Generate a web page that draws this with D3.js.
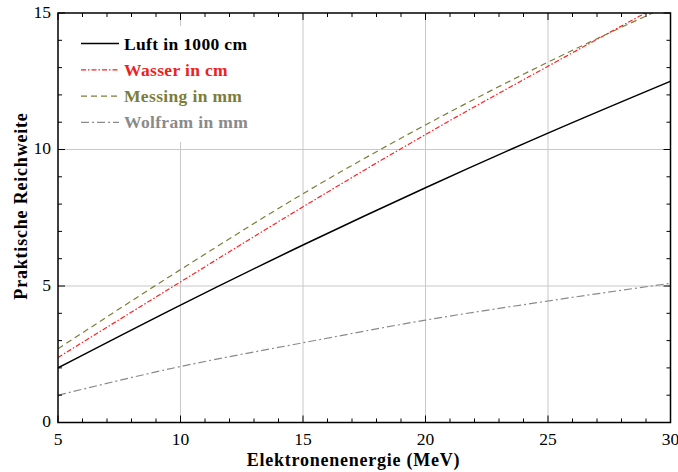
<!DOCTYPE html>
<html>
<head>
<meta charset="utf-8">
<script src="https://cdn.jsdelivr.net/npm/d3@7"></script>
<style>
  body { margin: 0; background: #fff; }
  text { font-family: "Liberation Serif", "DejaVu Serif", serif; }
</style>
</head>
<body>
<div id="chart"></div>
<script>
// energies in MeV
const energie = [5, 10, 15, 20, 25, 30];
const luft = [2.0, 4.3, 6.5, 8.6, 10.6, 12.5];
const wasser = [2.38, 5.15, 7.9, 10.55, 13.05, 15.5];
const messing = [2.7, 5.6, 8.38, 10.9, 13.2, 15.3];
const wolfram = [1.0, 2.05, 2.92, 3.75, 4.45, 5.1];

const serien = [
  {name: "Luft in 1000 cm", werte: luft, color: "#000000", text: "#000000", dash: null, w: 1.5},
  {name: "Wasser in cm", werte: wasser, color: "#ff2020", text: "#ee2020", dash: "5,2,1.5,2", w: 1.2},
  {name: "Messing in mm", werte: messing, color: "#7d7d3a", text: "#7d7d3a", dash: "6,4", w: 1.2},
  {name: "Wolfram in mm", werte: wolfram, color: "#8a8a8a", text: "#8a8a8a", dash: "8,3,2,3", w: 1.2}
];

const xTicks = [5, 10, 15, 20, 25, 30];
const yTicks = [0, 5, 10, 15];

const width = 678, height = 472;
const margin = {top: 13, right: 7.5, bottom: 49.5, left: 58};

const svg = d3.select("#chart").append("svg")
  .attr("width", width)
  .attr("height", height);

const x = d3.scaleLinear().domain([5, 30]).range([margin.left, width - margin.right]);
const y = d3.scaleLinear().domain([0, 15]).range([height - margin.bottom, margin.top]);

// grid
const grid = svg.append("g").attr("stroke", "#c8c8c8").attr("stroke-width", 1);
xTicks.slice(1, -1).forEach(t => {
  grid.append("line").attr("x1", x(t)).attr("x2", x(t)).attr("y1", y(0)).attr("y2", y(15));
});
yTicks.slice(1, -1).forEach(t => {
  grid.append("line").attr("x1", x(5)).attr("x2", x(30)).attr("y1", y(t)).attr("y2", y(t));
});

// clip for curves
svg.append("clipPath").attr("id", "clip")
  .append("rect")
  .attr("x", x(5)).attr("y", y(15))
  .attr("width", x(30) - x(5)).attr("height", y(0) - y(15));

const line = d3.line().curve(d3.curveMonotoneX);

// legend background hides grid behind it
svg.append("rect")
  .attr("x", 66).attr("y", 26).attr("width", 200).attr("height", 116)
  .attr("fill", "#fff");

const curves = svg.append("g").attr("clip-path", "url(#clip)");
serien.forEach(s => {
  curves.append("path")
    .attr("d", line(energie.map((e, i) => [x(e), y(s.werte[i])])))
    .attr("fill", "none")
    .attr("stroke", s.color)
    .attr("stroke-width", s.w)
    .attr("stroke-dasharray", s.dash);
});

// ticks (inside, on all four sides)
const ticks = svg.append("g").attr("stroke", "#000").attr("stroke-width", 1);
d3.range(5, 31, 1).forEach(t => {
  const len = t % 5 === 0 ? 7 : 4;
  ticks.append("line").attr("x1", x(t)).attr("x2", x(t)).attr("y1", y(0)).attr("y2", y(0) - len);
  ticks.append("line").attr("x1", x(t)).attr("x2", x(t)).attr("y1", y(15)).attr("y2", y(15) + len);
});
d3.range(0, 16, 1).forEach(t => {
  const len = t % 5 === 0 ? 7 : 4;
  ticks.append("line").attr("x1", x(5)).attr("x2", x(5) + len).attr("y1", y(t)).attr("y2", y(t));
  ticks.append("line").attr("x1", x(30)).attr("x2", x(30) - len).attr("y1", y(t)).attr("y2", y(t));
});

// frame
svg.append("rect")
  .attr("x", x(5)).attr("y", y(15))
  .attr("width", x(30) - x(5)).attr("height", y(0) - y(15))
  .attr("fill", "none").attr("stroke", "#000").attr("stroke-width", 1.5);

// tick labels
svg.append("g").selectAll("text").data(xTicks).join("text")
  .attr("x", d => x(d)).attr("y", 445)
  .attr("text-anchor", "middle")
  .attr("font-size", 17.5)
  .text(d => d);

svg.append("g").selectAll("text").data(yTicks).join("text")
  .attr("x", x(5) - 7).attr("y", d => y(d) + 4.5)
  .attr("text-anchor", "end")
  .attr("font-size", 17.5)
  .text(d => d);

// axis titles
svg.append("text")
  .attr("x", 353.5).attr("y", 466)
  .attr("text-anchor", "middle")
  .attr("font-size", 18).attr("font-weight", "bold")
  .attr("letter-spacing", 0.75)
  .text("Elektronenenergie (MeV)");

svg.append("text")
  .attr("transform", "translate(27,206) rotate(-90)")
  .attr("text-anchor", "middle")
  .attr("font-size", 18).attr("font-weight", "bold")
  .attr("letter-spacing", 0.8)
  .text("Praktische Reichweite");

// legend
const legend = svg.append("g");
serien.forEach((s, i) => {
  const ly = 43.5 + i * 26.3;
  legend.append("line")
    .attr("x1", 81).attr("x2", 119).attr("y1", ly).attr("y2", ly)
    .attr("stroke", s.color).attr("stroke-width", s.w)
    .attr("stroke-dasharray", s.dash);
  legend.append("text")
    .attr("x", 124).attr("y", ly + 6)
    .attr("font-size", 17.5).attr("font-weight", "bold")
    .attr("letter-spacing", 0.35)
    .attr("fill", s.text)
    .text(s.name);
});
</script>
</body>
</html>
